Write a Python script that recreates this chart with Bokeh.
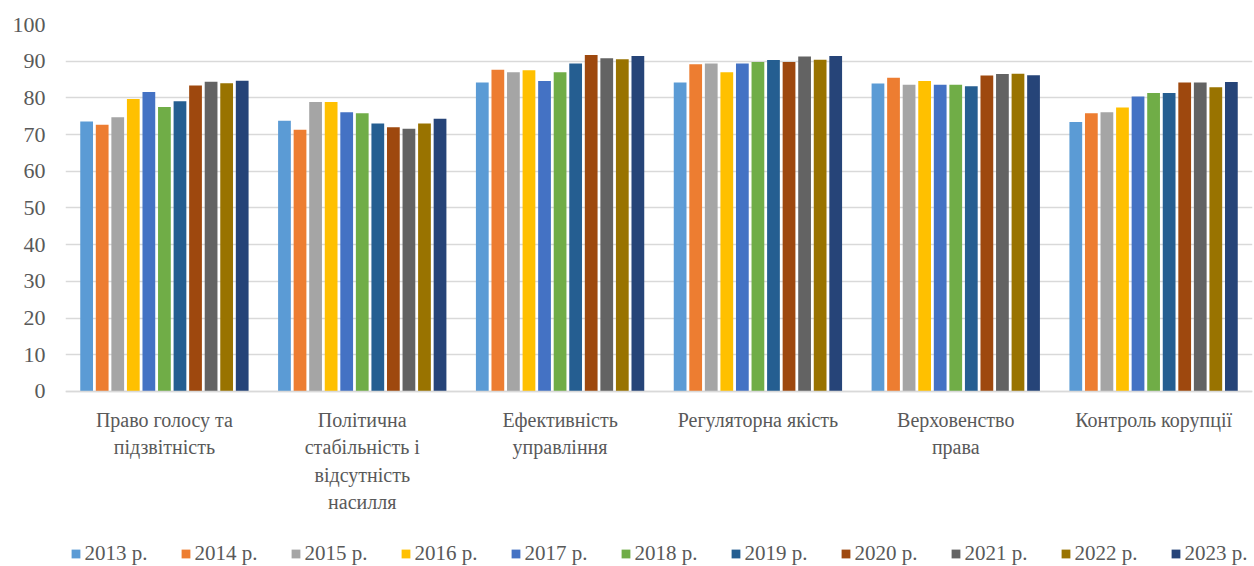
from bokeh.plotting import figure
from bokeh.models import Legend, LegendItem, FactorRange, Span, ColumnDataSource, FixedTicker
from bokeh.core.properties import value
from bokeh.transform import dodge
from bokeh.embed import file_html
from bokeh.resources import INLINE

categories = [
    "Право голосу та\nпідзвітність",
    "Політична\nстабільність і\nвідсутність\nнасилля",
    "Ефективність\nуправління",
    "Регуляторна якість",
    "Верховенство\nправа",
    "Контроль корупції",
]
years = ["2013 р.", "2014 р.", "2015 р.", "2016 р.", "2017 р.", "2018 р.",
         "2019 р.", "2020 р.", "2021 р.", "2022 р.", "2023 р."]
colors = ["#5B9BD5", "#ED7D31", "#A5A5A5", "#FFC000", "#4472C4", "#70AD47",
          "#255E91", "#9E480E", "#636363", "#997300", "#264478"]

# values per category for each year
voice = [73.6, 72.7, 74.7, 79.7, 81.6, 77.5, 79.1, 83.4, 84.4, 84.0, 84.7]
stability = [73.8, 71.3, 78.9, 78.9, 76.1, 75.8, 73.0, 72.0, 71.6, 73.0, 74.3]
effectiveness = [84.2, 87.7, 87.0, 87.5, 84.6, 87.0, 89.4, 91.7, 90.8, 90.5, 91.4]
regulatory = [84.2, 89.2, 89.4, 87.0, 89.4, 89.8, 90.3, 89.8, 91.3, 90.4, 91.4]
rule_of_law = [83.9, 85.5, 83.6, 84.6, 83.6, 83.6, 83.2, 86.1, 86.5, 86.6, 86.2]
corruption = [73.4, 75.8, 76.1, 77.4, 80.4, 81.3, 81.3, 84.2, 84.2, 82.9, 84.3]
y_ticks = [0, 10, 20, 30, 40, 50, 60, 70, 80, 90, 100]

rows = [voice, stability, effectiveness, regulatory, rule_of_law, corruption]
keys = ["c%d" % i for i in range(len(categories))]
data = {"cat": keys, "label": categories}
for j, y in enumerate(years):
    data[y] = [r[j] for r in rows]
src = ColumnDataSource(data)

FONT = "Liberation Serif"
GREY = "#595959"
p = figure(x_range=FactorRange(*keys), y_range=(-47.7, 100),
           width=1254, height=566,
           output_backend="svg", toolbar_location=None,
           min_border_left=65, min_border_right=2, min_border_top=24,
           min_border_bottom=0)
p.outline_line_color = None

slot = 0.865 / len(years)
bw = slot * 0.82
items = []
for j, y in enumerate(years):
    off = (j - (len(years) - 1) / 2) * slot
    r = p.vbar(x=dodge("cat", off, range=p.x_range), top=y, width=bw,
               source=src, fill_color=colors[j], line_color=None)
    items.append(LegendItem(label=y, renderers=[r]))

p.xgrid.grid_line_color = None
p.ygrid.grid_line_color = "#d9d9d9"
p.ygrid.grid_line_width = 1.5
p.yaxis.ticker = FixedTicker(ticks=y_ticks)
p.yaxis.axis_line_color = None
p.yaxis.major_tick_line_color = None
p.yaxis.minor_tick_line_color = None
p.yaxis.major_label_standoff = 14
p.yaxis.major_label_text_font = FONT
p.yaxis.major_label_text_font_size = "22px"
p.yaxis.major_label_text_color = GREY
p.xaxis.visible = False

p.add_layout(Span(location=0, dimension="width", line_color="#d9d9d9", line_width=1.5))

p.text(x="cat", y=-4.7, text="label", source=src, text_align="center",
       text_baseline="top", text_font=value(FONT), text_font_size="20px",
       text_color=GREY, text_line_height=1.25)

legend = Legend(items=items, orientation="horizontal", location="bottom_center",
                label_text_font=FONT, label_text_font_size="21px",
                label_text_color=GREY, glyph_width=11, glyph_height=11,
                label_standoff=4, spacing=32, border_line_color=None,
                background_fill_alpha=0, padding=2, margin=0)
p.add_layout(legend, "center")

open("out.html", "w").write(file_html(p, INLINE))
